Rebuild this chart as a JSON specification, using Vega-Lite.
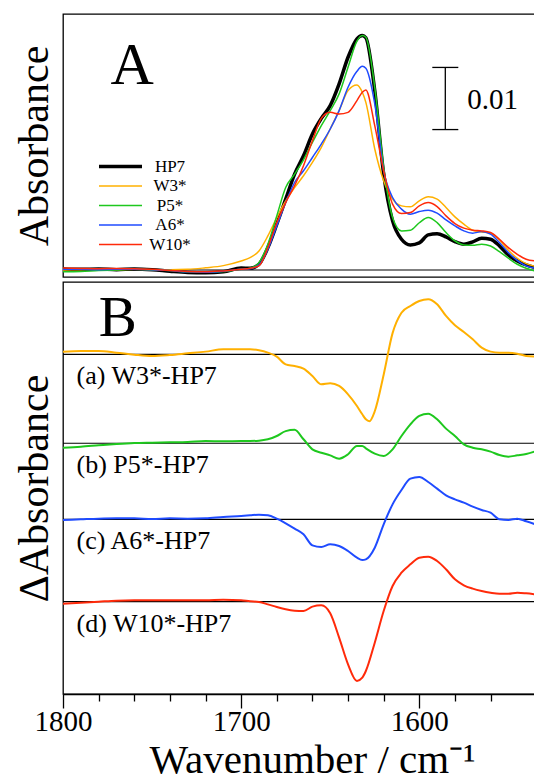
{
  "$schema": "https://vega.github.io/schema/vega-lite/v6.json",
  "padding": {"left": 12, "top": 13, "right": 0, "bottom": 0},
  "background": "white",
  "spacing": 0,
  "resolve": {"scale": {"color": "independent", "strokeWidth": "independent"}, "legend": {"color": "independent", "strokeWidth": "independent"}},
  "config": {
    "font": "Liberation Serif",
    "view": {"stroke": "black", "strokeWidth": 1.3},
    "axis": {"titleFontWeight": "normal", "titleColor": "black", "labelColor": "black", "grid": false, "titleFont": "Liberation Serif", "labelFont": "Liberation Serif"},
    "legend": {"labelFontWeight": "normal"},
    "concat": {"spacing": 0}
  },
  "datasets": {
    "spectra": [
      {"wn":1800,"series":"HP7","mA":0.16},{"wn":1790,"series":"HP7","mA":0.11},{"wn":1780,"series":"HP7","mA":0.16},{"wn":1770,"series":"HP7","mA":0.05},{"wn":1760,"series":"HP7","mA":0.16},{"wn":1750,"series":"HP7","mA":0.05},{"wn":1740,"series":"HP7","mA":-0.2},{"wn":1730,"series":"HP7","mA":-0.4},{"wn":1720,"series":"HP7","mA":-0.45},{"wn":1710,"series":"HP7","mA":-0.3},{"wn":1700,"series":"HP7","mA":0.32},{"wn":1695,"series":"HP7","mA":0.27},{"wn":1690,"series":"HP7","mA":0.92},{"wn":1685,"series":"HP7","mA":3.6},{"wn":1680,"series":"HP7","mA":7.37},{"wn":1675,"series":"HP7","mA":11.4},{"wn":1670,"series":"HP7","mA":15.44},{"wn":1665,"series":"HP7","mA":18.39},{"wn":1660,"series":"HP7","mA":21.89},{"wn":1655,"series":"HP7","mA":24.4},{"wn":1650,"series":"HP7","mA":26.45},{"wn":1645,"series":"HP7","mA":29.95},{"wn":1640,"series":"HP7","mA":34.24},{"wn":1635,"series":"HP7","mA":37.21},{"wn":1632,"series":"HP7","mA":37.74},{"wn":1630,"series":"HP7","mA":37.37},{"wn":1625,"series":"HP7","mA":28.87},{"wn":1620,"series":"HP7","mA":15.44},{"wn":1615,"series":"HP7","mA":7.9},{"wn":1610,"series":"HP7","mA":4.95},{"wn":1605,"series":"HP7","mA":4.03},{"wn":1600,"series":"HP7","mA":4.35},{"wn":1595,"series":"HP7","mA":5.65},{"wn":1590,"series":"HP7","mA":5.85},{"wn":1585,"series":"HP7","mA":5.32},{"wn":1580,"series":"HP7","mA":4.56},{"wn":1575,"series":"HP7","mA":4.15},{"wn":1570,"series":"HP7","mA":4.52},{"wn":1565,"series":"HP7","mA":5.11},{"wn":1560,"series":"HP7","mA":4.95},{"wn":1555,"series":"HP7","mA":3.87},{"wn":1550,"series":"HP7","mA":2.42},{"wn":1545,"series":"HP7","mA":1.45},{"wn":1540,"series":"HP7","mA":0.81},{"wn":1535,"series":"HP7","mA":0.4},
      {"wn":1800,"series":"W3*","mA":0.0},{"wn":1790,"series":"W3*","mA":0.05},{"wn":1780,"series":"W3*","mA":0.1},{"wn":1770,"series":"W3*","mA":0.05},{"wn":1760,"series":"W3*","mA":0.1},{"wn":1750,"series":"W3*","mA":0.05},{"wn":1740,"series":"W3*","mA":0.05},{"wn":1730,"series":"W3*","mA":0.1},{"wn":1720,"series":"W3*","mA":0.35},{"wn":1710,"series":"W3*","mA":0.7},{"wn":1700,"series":"W3*","mA":1.45},{"wn":1695,"series":"W3*","mA":1.98},{"wn":1690,"series":"W3*","mA":3.06},{"wn":1685,"series":"W3*","mA":5.48},{"wn":1680,"series":"W3*","mA":8.44},{"wn":1675,"series":"W3*","mA":11.13},{"wn":1670,"series":"W3*","mA":13.27},{"wn":1665,"series":"W3*","mA":15.16},{"wn":1660,"series":"W3*","mA":17.31},{"wn":1655,"series":"W3*","mA":19.73},{"wn":1650,"series":"W3*","mA":22.69},{"wn":1645,"series":"W3*","mA":25.65},{"wn":1640,"series":"W3*","mA":28.87},{"wn":1635,"series":"W3*","mA":29.78},{"wn":1632,"series":"W3*","mA":28.6},{"wn":1630,"series":"W3*","mA":26.98},{"wn":1625,"series":"W3*","mA":19.47},{"wn":1620,"series":"W3*","mA":14.35},{"wn":1615,"series":"W3*","mA":11.4},{"wn":1610,"series":"W3*","mA":10.32},{"wn":1605,"series":"W3*","mA":10.16},{"wn":1600,"series":"W3*","mA":11.13},{"wn":1595,"series":"W3*","mA":11.77},{"wn":1590,"series":"W3*","mA":11.4},{"wn":1585,"series":"W3*","mA":10.05},{"wn":1580,"series":"W3*","mA":8.55},{"wn":1575,"series":"W3*","mA":7.37},{"wn":1570,"series":"W3*","mA":6.4},{"wn":1565,"series":"W3*","mA":6.13},{"wn":1560,"series":"W3*","mA":5.92},{"wn":1555,"series":"W3*","mA":4.79},{"wn":1550,"series":"W3*","mA":3.18},{"wn":1545,"series":"W3*","mA":1.89},{"wn":1540,"series":"W3*","mA":1.02},{"wn":1535,"series":"W3*","mA":0.6},
      {"wn":1800,"series":"P5*","mA":-0.3},{"wn":1790,"series":"P5*","mA":-0.25},{"wn":1780,"series":"P5*","mA":-0.1},{"wn":1770,"series":"P5*","mA":0.0},{"wn":1760,"series":"P5*","mA":0.1},{"wn":1750,"series":"P5*","mA":0.05},{"wn":1740,"series":"P5*","mA":-0.1},{"wn":1730,"series":"P5*","mA":-0.3},{"wn":1720,"series":"P5*","mA":-0.35},{"wn":1710,"series":"P5*","mA":-0.25},{"wn":1700,"series":"P5*","mA":0.11},{"wn":1695,"series":"P5*","mA":0.27},{"wn":1690,"series":"P5*","mA":1.18},{"wn":1685,"series":"P5*","mA":4.15},{"wn":1680,"series":"P5*","mA":8.71},{"wn":1675,"series":"P5*","mA":13.27},{"wn":1670,"series":"P5*","mA":15.44},{"wn":1665,"series":"P5*","mA":17.74},{"wn":1660,"series":"P5*","mA":20.53},{"wn":1655,"series":"P5*","mA":23.23},{"wn":1650,"series":"P5*","mA":25.65},{"wn":1645,"series":"P5*","mA":28.34},{"wn":1640,"series":"P5*","mA":32.63},{"wn":1635,"series":"P5*","mA":36.82},{"wn":1632,"series":"P5*","mA":37.74},{"wn":1630,"series":"P5*","mA":37.47},{"wn":1625,"series":"P5*","mA":29.4},{"wn":1620,"series":"P5*","mA":16.5},{"wn":1615,"series":"P5*","mA":8.44},{"wn":1610,"series":"P5*","mA":6.29},{"wn":1605,"series":"P5*","mA":6.4},{"wn":1600,"series":"P5*","mA":7.6},{"wn":1595,"series":"P5*","mA":8.44},{"wn":1590,"series":"P5*","mA":7.63},{"wn":1585,"series":"P5*","mA":6.02},{"wn":1580,"series":"P5*","mA":4.68},{"wn":1575,"series":"P5*","mA":4.03},{"wn":1570,"series":"P5*","mA":3.98},{"wn":1565,"series":"P5*","mA":4.15},{"wn":1560,"series":"P5*","mA":3.87},{"wn":1555,"series":"P5*","mA":2.95},{"wn":1550,"series":"P5*","mA":1.89},{"wn":1545,"series":"P5*","mA":0.92},{"wn":1540,"series":"P5*","mA":0.27},{"wn":1535,"series":"P5*","mA":-0.16},
      {"wn":1800,"series":"A6*","mA":0.1},{"wn":1790,"series":"A6*","mA":0.1},{"wn":1780,"series":"A6*","mA":0.05},{"wn":1770,"series":"A6*","mA":0.1},{"wn":1760,"series":"A6*","mA":0.1},{"wn":1750,"series":"A6*","mA":0.05},{"wn":1740,"series":"A6*","mA":-0.1},{"wn":1730,"series":"A6*","mA":-0.3},{"wn":1720,"series":"A6*","mA":-0.35},{"wn":1710,"series":"A6*","mA":-0.2},{"wn":1700,"series":"A6*","mA":0.11},{"wn":1695,"series":"A6*","mA":0.21},{"wn":1690,"series":"A6*","mA":0.81},{"wn":1685,"series":"A6*","mA":3.34},{"wn":1680,"series":"A6*","mA":7.1},{"wn":1675,"series":"A6*","mA":10.85},{"wn":1670,"series":"A6*","mA":14.08},{"wn":1665,"series":"A6*","mA":15.97},{"wn":1660,"series":"A6*","mA":18.11},{"wn":1655,"series":"A6*","mA":20.27},{"wn":1650,"series":"A6*","mA":22.69},{"wn":1645,"series":"A6*","mA":25.65},{"wn":1640,"series":"A6*","mA":29.4},{"wn":1635,"series":"A6*","mA":31.98},{"wn":1632,"series":"A6*","mA":32.79},{"wn":1630,"series":"A6*","mA":32.47},{"wn":1625,"series":"A6*","mA":26.73},{"wn":1620,"series":"A6*","mA":15.97},{"wn":1615,"series":"A6*","mA":11.66},{"wn":1610,"series":"A6*","mA":9.79},{"wn":1605,"series":"A6*","mA":8.98},{"wn":1600,"series":"A6*","mA":9.4},{"wn":1595,"series":"A6*","mA":9.63},{"wn":1590,"series":"A6*","mA":9.15},{"wn":1585,"series":"A6*","mA":8.06},{"wn":1580,"series":"A6*","mA":7.1},{"wn":1575,"series":"A6*","mA":6.29},{"wn":1570,"series":"A6*","mA":5.92},{"wn":1565,"series":"A6*","mA":6.18},{"wn":1560,"series":"A6*","mA":5.76},{"wn":1555,"series":"A6*","mA":4.4},{"wn":1550,"series":"A6*","mA":2.79},{"wn":1545,"series":"A6*","mA":1.56},{"wn":1540,"series":"A6*","mA":0.65},{"wn":1535,"series":"A6*","mA":0.27},
      {"wn":1800,"series":"W10*","mA":0.3},{"wn":1790,"series":"W10*","mA":0.25},{"wn":1780,"series":"W10*","mA":0.2},{"wn":1770,"series":"W10*","mA":0.25},{"wn":1760,"series":"W10*","mA":0.2},{"wn":1750,"series":"W10*","mA":0.1},{"wn":1740,"series":"W10*","mA":-0.1},{"wn":1730,"series":"W10*","mA":-0.25},{"wn":1720,"series":"W10*","mA":-0.3},{"wn":1710,"series":"W10*","mA":-0.15},{"wn":1700,"series":"W10*","mA":0.11},{"wn":1695,"series":"W10*","mA":0.27},{"wn":1690,"series":"W10*","mA":0.65},{"wn":1685,"series":"W10*","mA":3.6},{"wn":1680,"series":"W10*","mA":7.63},{"wn":1675,"series":"W10*","mA":10.85},{"wn":1670,"series":"W10*","mA":13.55},{"wn":1665,"series":"W10*","mA":16.77},{"wn":1660,"series":"W10*","mA":20.81},{"wn":1655,"series":"W10*","mA":24.4},{"wn":1650,"series":"W10*","mA":25.37},{"wn":1645,"series":"W10*","mA":25.11},{"wn":1640,"series":"W10*","mA":25.37},{"wn":1635,"series":"W10*","mA":27.26},{"wn":1632,"series":"W10*","mA":28.6},{"wn":1630,"series":"W10*","mA":28.98},{"wn":1625,"series":"W10*","mA":23.23},{"wn":1620,"series":"W10*","mA":15.97},{"wn":1615,"series":"W10*","mA":10.6},{"wn":1610,"series":"W10*","mA":9.08},{"wn":1605,"series":"W10*","mA":9.24},{"wn":1600,"series":"W10*","mA":10.32},{"wn":1595,"series":"W10*","mA":10.85},{"wn":1590,"series":"W10*","mA":10.21},{"wn":1585,"series":"W10*","mA":8.71},{"wn":1580,"series":"W10*","mA":7.47},{"wn":1575,"series":"W10*","mA":6.73},{"wn":1570,"series":"W10*","mA":6.4},{"wn":1565,"series":"W10*","mA":6.29},{"wn":1560,"series":"W10*","mA":6.02},{"wn":1555,"series":"W10*","mA":4.95},{"wn":1550,"series":"W10*","mA":3.6},{"wn":1545,"series":"W10*","mA":2.53},{"wn":1540,"series":"W10*","mA":1.73},{"wn":1535,"series":"W10*","mA":1.45}
    ],
    "diff": [
      {"wn":1800,"diff":"W3*-HP7","dA":55.22},{"wn":1790,"diff":"W3*-HP7","dA":55.32},{"wn":1780,"diff":"W3*-HP7","dA":55.32},{"wn":1770,"diff":"W3*-HP7","dA":55.05},{"wn":1760,"diff":"W3*-HP7","dA":54.73},{"wn":1750,"diff":"W3*-HP7","dA":54.52},{"wn":1740,"diff":"W3*-HP7","dA":54.68},{"wn":1730,"diff":"W3*-HP7","dA":54.95},{"wn":1720,"diff":"W3*-HP7","dA":55.22},{"wn":1710,"diff":"W3*-HP7","dA":55.59},{"wn":1700,"diff":"W3*-HP7","dA":55.59},{"wn":1695,"diff":"W3*-HP7","dA":55.59},{"wn":1690,"diff":"W3*-HP7","dA":55.43},{"wn":1685,"diff":"W3*-HP7","dA":55.05},{"wn":1680,"diff":"W3*-HP7","dA":54.41},{"wn":1675,"diff":"W3*-HP7","dA":53.17},{"wn":1670,"diff":"W3*-HP7","dA":52.9},{"wn":1665,"diff":"W3*-HP7","dA":52.47},{"wn":1660,"diff":"W3*-HP7","dA":51.29},{"wn":1655,"diff":"W3*-HP7","dA":49.95},{"wn":1650,"diff":"W3*-HP7","dA":50.11},{"wn":1645,"diff":"W3*-HP7","dA":49.68},{"wn":1640,"diff":"W3*-HP7","dA":48.33},{"wn":1635,"diff":"W3*-HP7","dA":46.45},{"wn":1632,"diff":"W3*-HP7","dA":45.11},{"wn":1630,"diff":"W3*-HP7","dA":44.3},{"wn":1628,"diff":"W3*-HP7","dA":44.0},{"wn":1625,"diff":"W3*-HP7","dA":45.6},{"wn":1620,"diff":"W3*-HP7","dA":51.5},{"wn":1615,"diff":"W3*-HP7","dA":58.2},{"wn":1610,"diff":"W3*-HP7","dA":61.5},{"wn":1605,"diff":"W3*-HP7","dA":62.58},{"wn":1600,"diff":"W3*-HP7","dA":63.39},{"wn":1595,"diff":"W3*-HP7","dA":63.66},{"wn":1590,"diff":"W3*-HP7","dA":62.85},{"wn":1585,"diff":"W3*-HP7","dA":60.97},{"wn":1580,"diff":"W3*-HP7","dA":59.46},{"wn":1575,"diff":"W3*-HP7","dA":58.39},{"wn":1570,"diff":"W3*-HP7","dA":57.2},{"wn":1565,"diff":"W3*-HP7","dA":55.86},{"wn":1560,"diff":"W3*-HP7","dA":55.22},{"wn":1555,"diff":"W3*-HP7","dA":55.05},{"wn":1550,"diff":"W3*-HP7","dA":55.05},{"wn":1545,"diff":"W3*-HP7","dA":54.89},{"wn":1540,"diff":"W3*-HP7","dA":54.52},{"wn":1535,"diff":"W3*-HP7","dA":54.41},
      {"wn":1800,"diff":"P5*-HP7","dA":39.73},{"wn":1790,"diff":"P5*-HP7","dA":39.89},{"wn":1780,"diff":"P5*-HP7","dA":40.11},{"wn":1770,"diff":"P5*-HP7","dA":40.32},{"wn":1760,"diff":"P5*-HP7","dA":40.48},{"wn":1750,"diff":"P5*-HP7","dA":40.54},{"wn":1740,"diff":"P5*-HP7","dA":40.59},{"wn":1730,"diff":"P5*-HP7","dA":40.65},{"wn":1720,"diff":"P5*-HP7","dA":40.81},{"wn":1710,"diff":"P5*-HP7","dA":40.75},{"wn":1700,"diff":"P5*-HP7","dA":40.81},{"wn":1695,"diff":"P5*-HP7","dA":40.81},{"wn":1690,"diff":"P5*-HP7","dA":40.86},{"wn":1685,"diff":"P5*-HP7","dA":41.08},{"wn":1680,"diff":"P5*-HP7","dA":41.61},{"wn":1675,"diff":"P5*-HP7","dA":42.4},{"wn":1670,"diff":"P5*-HP7","dA":42.6},{"wn":1665,"diff":"P5*-HP7","dA":41.08},{"wn":1660,"diff":"P5*-HP7","dA":39.46},{"wn":1655,"diff":"P5*-HP7","dA":38.92},{"wn":1650,"diff":"P5*-HP7","dA":38.49},{"wn":1645,"diff":"P5*-HP7","dA":37.96},{"wn":1640,"diff":"P5*-HP7","dA":38.66},{"wn":1635,"diff":"P5*-HP7","dA":40.0},{"wn":1632,"diff":"P5*-HP7","dA":40.0},{"wn":1630,"diff":"P5*-HP7","dA":39.62},{"wn":1625,"diff":"P5*-HP7","dA":38.76},{"wn":1620,"diff":"P5*-HP7","dA":38.39},{"wn":1615,"diff":"P5*-HP7","dA":39.46},{"wn":1610,"diff":"P5*-HP7","dA":41.61},{"wn":1605,"diff":"P5*-HP7","dA":43.49},{"wn":1600,"diff":"P5*-HP7","dA":44.84},{"wn":1595,"diff":"P5*-HP7","dA":45.22},{"wn":1590,"diff":"P5*-HP7","dA":44.3},{"wn":1585,"diff":"P5*-HP7","dA":42.8},{"wn":1580,"diff":"P5*-HP7","dA":41.61},{"wn":1575,"diff":"P5*-HP7","dA":40.27},{"wn":1570,"diff":"P5*-HP7","dA":39.73},{"wn":1565,"diff":"P5*-HP7","dA":39.46},{"wn":1560,"diff":"P5*-HP7","dA":39.09},{"wn":1555,"diff":"P5*-HP7","dA":38.55},{"wn":1550,"diff":"P5*-HP7","dA":38.28},{"wn":1545,"diff":"P5*-HP7","dA":38.49},{"wn":1540,"diff":"P5*-HP7","dA":38.71},{"wn":1535,"diff":"P5*-HP7","dA":39.14},
      {"wn":1800,"diff":"A6*-HP7","dA":28.06},{"wn":1790,"diff":"A6*-HP7","dA":28.17},{"wn":1780,"diff":"A6*-HP7","dA":28.28},{"wn":1770,"diff":"A6*-HP7","dA":28.33},{"wn":1760,"diff":"A6*-HP7","dA":28.33},{"wn":1750,"diff":"A6*-HP7","dA":28.23},{"wn":1740,"diff":"A6*-HP7","dA":28.33},{"wn":1730,"diff":"A6*-HP7","dA":28.28},{"wn":1720,"diff":"A6*-HP7","dA":28.33},{"wn":1710,"diff":"A6*-HP7","dA":28.55},{"wn":1700,"diff":"A6*-HP7","dA":28.71},{"wn":1695,"diff":"A6*-HP7","dA":28.82},{"wn":1690,"diff":"A6*-HP7","dA":28.92},{"wn":1685,"diff":"A6*-HP7","dA":28.82},{"wn":1680,"diff":"A6*-HP7","dA":28.28},{"wn":1675,"diff":"A6*-HP7","dA":27.53},{"wn":1670,"diff":"A6*-HP7","dA":26.67},{"wn":1665,"diff":"A6*-HP7","dA":25.75},{"wn":1660,"diff":"A6*-HP7","dA":23.98},{"wn":1655,"diff":"A6*-HP7","dA":23.71},{"wn":1650,"diff":"A6*-HP7","dA":24.14},{"wn":1645,"diff":"A6*-HP7","dA":23.87},{"wn":1640,"diff":"A6*-HP7","dA":23.06},{"wn":1635,"diff":"A6*-HP7","dA":21.99},{"wn":1632,"diff":"A6*-HP7","dA":21.61},{"wn":1630,"diff":"A6*-HP7","dA":21.72},{"wn":1625,"diff":"A6*-HP7","dA":23.6},{"wn":1620,"diff":"A6*-HP7","dA":27.37},{"wn":1615,"diff":"A6*-HP7","dA":30.59},{"wn":1610,"diff":"A6*-HP7","dA":32.9},{"wn":1605,"diff":"A6*-HP7","dA":34.73},{"wn":1600,"diff":"A6*-HP7","dA":35.0},{"wn":1595,"diff":"A6*-HP7","dA":34.19},{"wn":1590,"diff":"A6*-HP7","dA":33.12},{"wn":1585,"diff":"A6*-HP7","dA":32.04},{"wn":1580,"diff":"A6*-HP7","dA":31.4},{"wn":1575,"diff":"A6*-HP7","dA":30.86},{"wn":1570,"diff":"A6*-HP7","dA":30.22},{"wn":1565,"diff":"A6*-HP7","dA":29.68},{"wn":1560,"diff":"A6*-HP7","dA":29.25},{"wn":1555,"diff":"A6*-HP7","dA":28.17},{"wn":1550,"diff":"A6*-HP7","dA":28.06},{"wn":1545,"diff":"A6*-HP7","dA":28.28},{"wn":1540,"diff":"A6*-HP7","dA":27.85},{"wn":1535,"diff":"A6*-HP7","dA":27.37},
      {"wn":1800,"diff":"W10*-HP7","dA":14.57},{"wn":1790,"diff":"W10*-HP7","dA":14.73},{"wn":1780,"diff":"W10*-HP7","dA":14.89},{"wn":1770,"diff":"W10*-HP7","dA":15.05},{"wn":1760,"diff":"W10*-HP7","dA":15.11},{"wn":1750,"diff":"W10*-HP7","dA":15.11},{"wn":1740,"diff":"W10*-HP7","dA":15.11},{"wn":1730,"diff":"W10*-HP7","dA":15.11},{"wn":1720,"diff":"W10*-HP7","dA":15.11},{"wn":1710,"diff":"W10*-HP7","dA":15.22},{"wn":1700,"diff":"W10*-HP7","dA":15.11},{"wn":1695,"diff":"W10*-HP7","dA":14.95},{"wn":1690,"diff":"W10*-HP7","dA":14.84},{"wn":1685,"diff":"W10*-HP7","dA":14.46},{"wn":1680,"diff":"W10*-HP7","dA":14.03},{"wn":1675,"diff":"W10*-HP7","dA":13.66},{"wn":1670,"diff":"W10*-HP7","dA":13.44},{"wn":1665,"diff":"W10*-HP7","dA":13.39},{"wn":1660,"diff":"W10*-HP7","dA":14.09},{"wn":1655,"diff":"W10*-HP7","dA":14.3},{"wn":1650,"diff":"W10*-HP7","dA":13.01},{"wn":1645,"diff":"W10*-HP7","dA":9.09},{"wn":1640,"diff":"W10*-HP7","dA":4.78},{"wn":1635,"diff":"W10*-HP7","dA":2.1},{"wn":1632,"diff":"W10*-HP7","dA":2.63},{"wn":1630,"diff":"W10*-HP7","dA":3.71},{"wn":1625,"diff":"W10*-HP7","dA":8.28},{"wn":1620,"diff":"W10*-HP7","dA":13.39},{"wn":1615,"diff":"W10*-HP7","dA":17.42},{"wn":1610,"diff":"W10*-HP7","dA":19.57},{"wn":1605,"diff":"W10*-HP7","dA":20.91},{"wn":1600,"diff":"W10*-HP7","dA":21.99},{"wn":1595,"diff":"W10*-HP7","dA":22.15},{"wn":1590,"diff":"W10*-HP7","dA":21.45},{"wn":1585,"diff":"W10*-HP7","dA":20.11},{"wn":1580,"diff":"W10*-HP7","dA":18.49},{"wn":1575,"diff":"W10*-HP7","dA":17.53},{"wn":1570,"diff":"W10*-HP7","dA":16.99},{"wn":1565,"diff":"W10*-HP7","dA":16.61},{"wn":1560,"diff":"W10*-HP7","dA":16.34},{"wn":1555,"diff":"W10*-HP7","dA":16.18},{"wn":1550,"diff":"W10*-HP7","dA":16.18},{"wn":1545,"diff":"W10*-HP7","dA":16.34},{"wn":1540,"diff":"W10*-HP7","dA":16.24},{"wn":1535,"diff":"W10*-HP7","dA":16.08}
    ],
    "base": [
      {"diff":"W3*-HP7","label":"(a) W3*-HP7","base":54.79},
      {"diff":"P5*-HP7","label":"(b) P5*-HP7","base":40.44},
      {"diff":"A6*-HP7","label":"(c) A6*-HP7","base":28.18},
      {"diff":"W10*-HP7","label":"(d) W10*-HP7","base":14.89}
    ]
  },
  "vconcat": [
    {
      "width": 481,
      "height": 263,
      "layer": [
        {
          "data": {"values": [{}]},
          "mark": {"type": "rule", "color": "black", "strokeWidth": 1.2},
          "encoding": {"y": {"datum": 0, "scale": {"domain": [-1.13, 41.2], "nice": false, "zero": false}}}
        },
        {
          "data": {"name": "spectra"},
          "mark": {"type": "line", "interpolate": "monotone"},
          "encoding": {
            "x": {"field": "wn", "type": "quantitative", "scale": {"domain": [1800, 1530], "nice": false, "zero": false}, "axis": null},
            "y": {"field": "mA", "type": "quantitative", "scale": {"domain": [-1.13, 41.2], "nice": false, "zero": false},
                  "axis": {"title": "Absorbance", "labels": false, "ticks": false, "domain": false, "titleFontSize": 42, "titlePadding": 7}},
            "color": {"field": "series", "type": "nominal",
                      "scale": {"domain": ["HP7", "W3*", "P5*", "A6*", "W10*"], "range": ["#000000", "#FFB000", "#1EC81E", "#1F4BFF", "#FF2A0A"]},
                      "legend": {"orient": "none", "legendX": 49, "legendY": 144, "title": null, "symbolType": "M-4.3,0H4.3", "symbolSize": 100, "labelFontSize": 17, "labelFont": "Liberation Serif", "labelColor": "black", "labelAlign": "center", "labelOffset": 41, "rowPadding": 1.5, "padding": 0}},
            "strokeWidth": {"field": "series", "type": "nominal",
                            "scale": {"type": "ordinal", "domain": ["HP7", "W3*", "P5*", "A6*", "W10*"], "range": [3.5, 1.5, 1.5, 1.5, 1.5]},
                            "legend": {"orient": "none", "legendX": 49, "legendY": 144, "title": null, "symbolType": "M-4.3,0H4.3", "symbolSize": 100, "labelFontSize": 17, "labelFont": "Liberation Serif", "labelColor": "black", "labelAlign": "center", "labelOffset": 41, "rowPadding": 1.5, "padding": 0}},
            "order": {"field": "wn", "type": "quantitative", "sort": "descending"}
          }
        },
        {
          "data": {"values": [{}]},
          "mark": {"type": "text", "text": "A", "fontSize": 60, "align": "left", "baseline": "alphabetic", "color": "black"},
          "encoding": {"x": {"datum": 1773.3}, "y": {"datum": 30.0}}
        },
        {
          "data": {"values": [{}]},
          "mark": {"type": "rule", "color": "black", "strokeWidth": 1.3},
          "encoding": {"x": {"datum": 1585.4}, "y": {"datum": 22.6}, "y2": {"datum": 32.6}}
        },
        {
          "data": {"values": [{"level": 22.6}, {"level": 32.6}]},
          "mark": {"type": "rule", "color": "black", "strokeWidth": 1.3},
          "encoding": {"x": {"datum": 1592.7}, "x2": {"datum": 1578.1}, "y": {"field": "level", "type": "quantitative"}}
        },
        {
          "data": {"values": [{}]},
          "mark": {"type": "text", "text": "0.01", "fontSize": 29, "align": "left", "baseline": "middle", "color": "black"},
          "encoding": {"x": {"datum": 1573.1}, "y": {"datum": 27.4}}
        }
      ]
    },
    {
      "width": 481,
      "height": 412,
      "layer": [
        {
          "data": {"name": "base"},
          "mark": {"type": "rule", "color": "black", "strokeWidth": 1.2},
          "encoding": {"y": {"field": "base", "type": "quantitative", "scale": {"domain": [0, 66.45], "nice": false, "zero": false}}}
        },
        {
          "data": {"name": "diff"},
          "mark": {"type": "line", "interpolate": "monotone", "strokeWidth": 2},
          "encoding": {
            "x": {"field": "wn", "type": "quantitative", "scale": {"domain": [1800, 1530], "nice": false, "zero": false},
                  "axis": {"title": "Wavenumber / cm⁻¹", "values": [1800, 1780, 1760, 1740, 1720, 1700, 1680, 1660, 1640, 1620, 1600, 1580, 1560],
                           "labelExpr": "datum.value % 100 === 0 ? format(datum.value, 'd') : ''",
                           "tickSize": {"condition": {"test": "datum.value % 100 === 0", "value": 14}, "value": 7},
                           "tickColor": "black", "domainColor": "black", "domainWidth": 1.3, "tickWidth": 1.3,
                           "labelFontSize": 29, "labelPadding": -1, "labelFlush": false, "labelOverlap": false,
                           "titleFontSize": 41, "titlePadding": 4, "titleX": 249, "titleAlign": "center"}},
            "y": {"field": "dA", "type": "quantitative", "scale": {"domain": [0, 66.45], "nice": false, "zero": false},
                  "axis": {"title": "ΔAbsorbance", "labels": false, "ticks": false, "domain": false, "titleFontSize": 42, "titlePadding": 7}},
            "color": {"field": "diff", "type": "nominal",
                      "scale": {"domain": ["W3*-HP7", "P5*-HP7", "A6*-HP7", "W10*-HP7"], "range": ["#FFB000", "#1EC81E", "#1F4BFF", "#FF2A0A"]},
                      "legend": null}
          }
        },
        {
          "data": {"name": "base"},
          "mark": {"type": "text", "fontSize": 26, "align": "left", "baseline": "middle", "dy": 22, "color": "black"},
          "encoding": {"x": {"datum": 1792.4}, "y": {"field": "base", "type": "quantitative"}, "text": {"field": "label"}}
        },
        {
          "data": {"values": [{}]},
          "mark": {"type": "text", "text": "B", "fontSize": 57, "align": "left", "baseline": "alphabetic", "color": "black"},
          "encoding": {"x": {"datum": 1780.0}, "y": {"datum": 57.74}}
        }
      ]
    }
  ]
}
